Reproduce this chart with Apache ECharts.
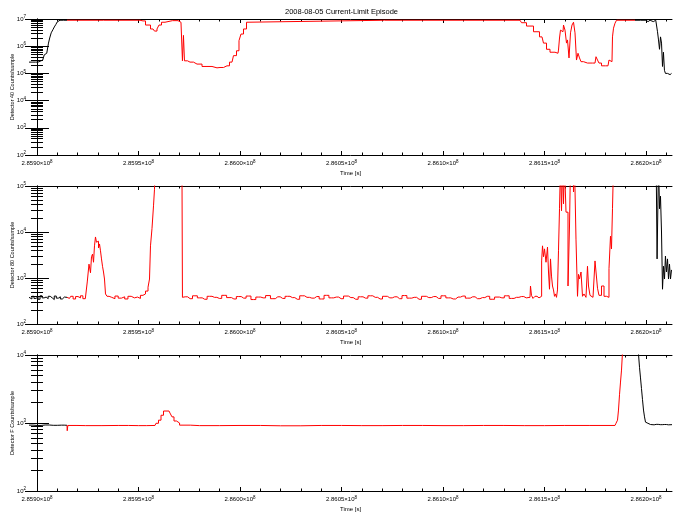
<!DOCTYPE html>
<html>
<head>
<meta charset="utf-8">
<script src="https://cdn.jsdelivr.net/npm/echarts@6/dist/echarts.min.js"></script>
<style>
    html, body { margin: 0; padding: 0; background: #ffffff; }
    #chart { width: 683px; height: 518px; }
</style>
</head>
<body>
<div id="chart"></div>
<script>
    // time axis: seconds after T0
    const T0 = 285900000;
    const X_MIN = -3940;
    const X_MAX = 312800;
    const xMajor = [0, 50000, 100000, 150000, 200000, 250000, 300000];

    const chartTitle = '2008-08-05 Current-Limit Episode';
    const yNames = ['Detector 40 Counts/sample', 'Detector 80 Counts/sample', 'Detector F Counts/sample'];

    // detector 40
    const p1Pre = [[-3940, 2.6e5], [-2000, 2.6e5], [500, 2.6e5], [1600, 2.8e5], [2460, 3.1e5], [3200, 3.6e5], [3940, 4.8e5], [4800, 5.5e5], [5420, 6.2e5], [5910, 1.3e6], [6600, 2.0e6], [7390, 3.1e6], [8200, 4.0e6], [8870, 5.1e6], [9600, 6.2e6], [10340, 7.8e6], [11330, 9e6], [14780, 9e6]];
    const p1Red = [[14780, 9e6], [50740, 9e6], [52220, 8.5e6], [54680, 6.0e6], [57140, 4.3e6], [58620, 3.6e6], [59600, 4.3e6], [60590, 6.0e6], [62070, 7.6e6], [64040, 8.7e6], [69460, 8.7e6], [70440, 7.6e6], [71400, 7.6e6], [71900, 2.9e5], [72400, 2.5e6], [72900, 2.9e5], [75370, 2.6e5], [78820, 2.2e5], [83740, 1.8e5], [88670, 1.6e5], [90150, 1.65e5], [93590, 1.9e5], [96060, 2.6e5], [97530, 4.5e5], [99010, 6.8e5], [100000, 1.6e6], [100980, 2.8e6], [102460, 4.3e6], [103940, 7.6e6], [104430, 9e6], [237930, 9e6], [239400, 7.3e6], [242850, 5.5e6], [246300, 3.4e6], [248760, 2.2e6], [250240, 1.3e6], [251720, 7.7e5], [253690, 6.0e5], [256640, 5.5e5], [257140, 7.2e5], [257630, 2.0e6], [258120, 3.9e6], [259110, 3.4e6], [259600, 6.0e6], [260590, 3.9e6], [261080, 1.3e6], [261570, 1.7e6], [262560, 3.7e5], [263050, 3.1e6], [264040, 6.0e6], [264530, 7.6e6], [265510, 3.1e6], [266000, 3.1e5], [266990, 5.5e5], [267480, 3.7e5], [268470, 2.7e5], [269940, 2.4e5], [272410, 2.4e5], [274870, 2.4e5], [275860, 4.1e5], [276350, 3.1e5], [277330, 2.4e5], [278810, 1.9e5], [281270, 1.9e5], [282260, 3.1e5], [283240, 2.7e5], [283740, 2.2e6], [284230, 4.6e6], [285220, 7.0e6], [285710, 9e6], [294580, 9e6]];
    const p1Post = [[294580, 9e6], [300000, 9e6], [301000, 8.0e6], [302000, 9e6], [303600, 8.0e6], [304800, 9e6], [305410, 8.5e6], [305910, 3.4e6], [306400, 1.7e6], [306890, 7.7e5], [307400, 2.2e6], [307880, 1.3e6], [308370, 1.8e5], [308800, 6e5], [309350, 1.3e5], [309800, 1.0e5], [310340, 1.0e5], [310830, 1.15e5], [311400, 9e4], [312310, 8.7e4], [312800, 1.0e5]];

    // detector 80
    const p2Pre = [[-3940, 380], [-3000, 350], [-2000, 400], [-1000, 360], [0, 390], [1000, 345], [2000, 410], [3000, 370], [4000, 385], [5000, 355], [6000, 400], [7000, 370], [8000, 340], [9000, 405], [10000, 365], [11000, 390], [12000, 350], [13000, 385], [14000, 375], [14780, 380]];
    const p2Red = [[14780, 380], [16000, 360], [17200, 400], [18400, 350], [19600, 395], [20800, 370], [22000, 410], [23200, 355], [24400, 390],
        [25120, 820], [26100, 2000], [26600, 1300], [27100, 2900], [27600, 3300], [28080, 2200], [28560, 5000], [29060, 7800], [29560, 6000], [30060, 6300], [30540, 4500], [31040, 5500], [31520, 3900], [32020, 2600], [32520, 1800], [33000, 1350], [33500, 950], [34000, 450], [35000, 400],
        [36000, 380], [37600, 355], [39200, 405], [40800, 365], [42400, 390], [44000, 350], [45600, 400], [47200, 370], [48800, 385], [50200, 360], [51700, 420], [52700, 450], [54200, 520], [55180, 630], [55660, 950], [56160, 5000], [57140, 1.2e4], [57640, 3.7e4], [58120, 8.5e4], [58400, 3e5], [71400, 3e5], [71900, 380],
        [73000, 390], [75400, 355], [77800, 410], [80200, 370], [82600, 345], [85000, 400], [87400, 380], [89800, 360], [92200, 420], [94600, 375], [97000, 350], [99400, 395], [101800, 365], [104200, 405], [106600, 340], [109000, 385], [111400, 370], [113800, 415], [116200, 355], [118600, 390], [121000, 360], [123400, 400], [125800, 375], [128200, 345], [130600, 410], [133000, 380], [135400, 365], [137800, 395], [140200, 350], [142600, 420], [145000, 370], [147400, 385], [149800, 355], [152200, 405], [154600, 375], [157000, 345], [159400, 390], [161800, 365], [164200, 410], [166600, 380], [169000, 350], [171400, 400], [173800, 370], [176200, 390], [178600, 355], [181000, 415], [183400, 365], [185800, 380], [188200, 345], [190600, 400], [193000, 375], [195400, 395], [197800, 360], [200200, 410], [202600, 370], [205000, 350], [207400, 385], [209800, 405], [212200, 365], [214600, 390], [217000, 355], [219400, 375], [221800, 400], [224200, 345], [226600, 385], [229000, 370], [231400, 410], [233800, 360], [236200, 380], [238600, 395], [241000, 370],
        [242850, 380], [243340, 670], [243840, 420], [244800, 360], [245800, 400], [246800, 370], [247780, 390], [248400, 400],
        [248760, 2350], [249260, 5000], [249750, 2900], [250240, 4300], [251230, 2200], [251720, 4700], [252210, 1350], [252700, 570], [253200, 2600], [253690, 1100], [254180, 670], [254680, 550], [255170, 400], [255660, 450], [256150, 380], [256640, 550], [257140, 3900], [257630, 3.2e4], [258120, 3e5], [258620, 2.9e4], [259110, 3e5], [259600, 4.1e4], [260090, 3e5], [261080, 2.7e4], [262070, 670], [262560, 1.35e4], [263050, 3e5], [264040, 3e5], [264530, 7.4e4], [265020, 3e5], [266000, 7000], [266500, 400], [266990, 1200], [267480, 950], [268470, 1350], [268960, 400], [269940, 450], [270930, 380], [271420, 1800], [271920, 670], [272900, 420], [273890, 380], [275860, 2350], [276350, 600], [277330, 420], [278810, 670], [279800, 400], [281270, 380], [282260, 1600], [282750, 8100], [283240, 4300], [283740, 3.2e4], [284230, 3e5], [294580, 3e5]];
    const p2Post = [[294580, 3e5], [305000, 3e5], [305910, 2600], [306400, 3e5], [306890, 3.2e4], [307380, 6e4], [307880, 1e4], [308370, 570], [308860, 1800], [309350, 950], [309800, 3000], [310340, 1350], [310830, 2600], [311330, 950], [311800, 2000], [312310, 950], [312800, 1500]];

    // detector F
    const p3Pre = [[-3940, 930], [0, 920], [4000, 935], [8000, 925], [12000, 930], [14780, 925]];
    const p3Red = [[14780, 925], [15000, 770], [15400, 920], [24000, 915], [40000, 920], [50000, 915], [58120, 920], [59110, 990], [60590, 1100], [61580, 1300], [63050, 1500], [64040, 1600], [65020, 1500], [66000, 1400], [66990, 1230], [67980, 1070], [69460, 1000], [71000, 930], [80000, 915], [100000, 920], [120000, 910], [140000, 920], [160000, 915], [180000, 920], [200000, 915], [220000, 920], [240000, 915], [260000, 920], [284720, 920], [285710, 990], [286200, 1100], [286690, 1550], [287190, 2600], [287680, 4000], [288170, 6000], [288660, 1.1e4], [289200, 3e4], [292000, 3e4]];
    const p3Post = [[292000, 3e4], [296000, 3e4], [296550, 1.05e4], [297040, 6600], [297530, 4600], [298020, 3200], [298520, 2200], [299010, 1550], [299500, 1230], [300000, 1030], [300490, 990], [301400, 950], [303000, 940], [305000, 955], [307000, 945], [309000, 950], [311000, 940], [312800, 945]];

    const panels = [
        { top: 19, height: 136, ymin: 1e2, ymax: 1e7, pre: p1Pre, red: p1Red, post: p1Post },
        { top: 186, height: 138, ymin: 1e2, ymax: 1e5, pre: p2Pre, red: p2Red, post: p2Post },
        { top: 355, height: 136, ymin: 1e2, ymax: 1e4, pre: p3Pre, red: p3Red, post: p3Post },
    ];

    const FONT = 'Liberation Sans';
    const black = '#000000';

    // minor ticks every 10000 s
    const xMinor = [];
    for (let t = 0; t <= X_MAX; t += 10000) {
        if (t % 50000 !== 0) xMinor.push(t);
    }

    function logMinor(ymin, ymax) {
        const out = [];
        for (let d = Math.log10(ymin); d < Math.log10(ymax); d++) {
            for (let k = 2; k <= 9; k++) out.push(Math.log10(k) + d);
        }
        return out;
    }

    const supRich = {
        a: { fontSize: 6, fontFamily: FONT, color: black },
        b: { fontSize: 4.5, fontFamily: FONT, color: black, padding: [0, 0, 4, 0] },
    };

    const grids = [];
    const xAxes = [];
    const yAxes = [];
    const series = [];

    panels.forEach((p, i) => {
        grids.push({ left: 29, right: 11, top: p.top, height: p.height, containLabel: false, outerBoundsMode: 'none' });
        const lineStyle = { color: black, width: 1 };
        // bottom major (labels + name)
        xAxes.push({
            gridIndex: i, type: 'value', min: X_MIN, max: X_MAX, position: 'bottom',
            axisLine: { show: true, lineStyle: lineStyle },
            axisTick: { show: true, inside: true, length: 4, customValues: xMajor, lineStyle: lineStyle },
            axisLabel: {
                show: true, customValues: xMajor, margin: 4, rich: supRich,
                formatter: (v) => '{a|' + ((T0 + v) / 1e8).toFixed(4) + '×10}{b|8}',
            },
            splitLine: { show: false },
            name: 'Time [s]', nameLocation: 'middle', nameGap: 15, nameMoveOverlap: false,
            nameTextStyle: { fontSize: 6, fontFamily: FONT, color: black },
        });
        xAxes.push({
            gridIndex: i, type: 'value', min: X_MIN, max: X_MAX, position: 'bottom',
            axisLine: { show: false },
            axisTick: { show: true, inside: true, length: 2.5, customValues: xMinor, lineStyle: lineStyle },
            axisLabel: { show: false }, splitLine: { show: false },
        });
        xAxes.push({
            gridIndex: i, type: 'value', min: X_MIN, max: X_MAX, position: 'top',
            axisLine: { show: true, lineStyle: lineStyle },
            axisTick: { show: true, inside: true, length: 4, customValues: xMajor, lineStyle: lineStyle },
            axisLabel: { show: false }, splitLine: { show: false },
        });
        xAxes.push({
            gridIndex: i, type: 'value', min: X_MIN, max: X_MAX, position: 'top',
            axisLine: { show: false },
            axisTick: { show: true, inside: true, length: 2.5, customValues: xMinor, lineStyle: lineStyle },
            axisLabel: { show: false }, splitLine: { show: false },
        });

        const lmin = Math.log10(p.ymin);
        const lmax = Math.log10(p.ymax);
        const minorVals = logMinor(p.ymin, p.ymax);
        // left log axis (data)
        yAxes.push({
            gridIndex: i, type: 'log', logBase: 10, min: p.ymin, max: p.ymax, position: 'left',
            axisLine: { show: true, lineStyle: lineStyle },
            axisTick: { show: true, inside: true, length: 12, lineStyle: lineStyle },
            axisLabel: {
                show: true, margin: 3, rich: supRich,
                formatter: (v) => '{a|10}{b|' + Math.round(Math.log10(v)) + '}',
            },
            splitLine: { show: false },
            name: yNames[i], nameLocation: 'middle', nameGap: 14, nameRotate: 90, nameMoveOverlap: false,
            nameTextStyle: { fontSize: 5.5, fontFamily: FONT, color: black },
        });
        yAxes.push({
            gridIndex: i, type: 'value', min: lmin, max: lmax, position: 'left',
            axisLine: { show: false },
            axisTick: { show: true, inside: true, length: 6, customValues: minorVals, lineStyle: lineStyle },
            axisLabel: { show: false }, splitLine: { show: false },
        });
        yAxes.push({
            gridIndex: i, type: 'log', logBase: 10, min: p.ymin, max: p.ymax, position: 'right',
            axisLine: { show: true, lineStyle: lineStyle },
            axisTick: { show: true, inside: true, length: 12, lineStyle: lineStyle },
            axisLabel: { show: false }, splitLine: { show: false },
        });
        yAxes.push({
            gridIndex: i, type: 'value', min: lmin, max: lmax, position: 'right',
            axisLine: { show: false },
            axisTick: { show: true, inside: true, length: 6, customValues: minorVals, lineStyle: lineStyle },
            axisLabel: { show: false }, splitLine: { show: false },
        });

        const base = {
            type: 'line', xAxisIndex: i * 4, yAxisIndex: i * 4, step: 'middle',
            symbol: 'none', clip: true, silent: true,
        };
        series.push(Object.assign({}, base, { data: p.pre, lineStyle: { color: black, width: 1 } }));
        series.push(Object.assign({}, base, { data: p.post, lineStyle: { color: black, width: 1 } }));
        series.push(Object.assign({}, base, { data: p.red, lineStyle: { color: '#ff0000', width: 1 } }));
    });

    const chart = echarts.init(document.getElementById('chart'), null, { renderer: 'canvas' });
    chart.setOption({
        animation: false,
        backgroundColor: '#ffffff',
        title: {
            text: chartTitle, left: 'center', top: 3,
            textStyle: { fontSize: 7.5, fontWeight: 'normal', fontFamily: FONT, color: black },
        },
        grid: grids,
        xAxis: xAxes,
        yAxis: yAxes,
        series: series,
    });
</script>
</body>
</html>
